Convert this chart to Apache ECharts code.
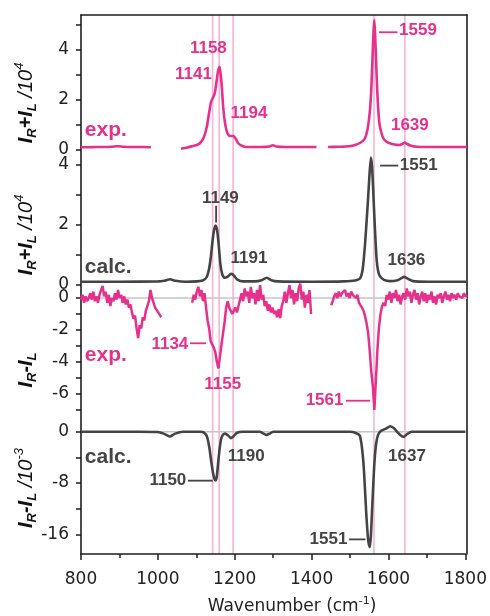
<!DOCTYPE html>
<html>
<head>
<meta charset="utf-8">
<script src="https://cdn.jsdelivr.net/npm/echarts@6/dist/echarts.min.js"></script>
<style>
html,body{margin:0;padding:0;background:#fff;}
#chart{width:490px;height:616px;}
</style>
</head>
<body>
<div id="chart"></div>
<script>
// ---- data (x: wavenumber cm-1) ----
// exp. I_R+I_L /10^4 (null = gap in the measurement)
var expSum = [
	[800,0.11],[820,0.11],[840,0.12],[860,0.12],[880,0.13],[895,0.15],[910,0.13],[930,0.12],[950,0.12],[965,0.12],[981,0.11],
	[1020,null],
	[1059,0.05],[1075,0.1],[1090,0.16],[1100,0.2],[1108,0.27],[1118,0.5],[1126,0.93],[1132,1.5],[1137,1.93],[1143,2.13],
	[1147,2.3],[1151,2.73],[1155,3.15],[1159,3.33],[1162,3.0],[1165,2.5],[1168,1.8],[1172,1.2],[1177,0.78],[1182,0.6],
	[1188,0.56],[1195,0.56],[1201,0.45],[1207,0.27],[1218,0.16],[1229,0.12],[1250,0.12],[1270,0.12],[1288,0.14],
	[1297,0.19],[1306,0.14],[1330,0.12],[1360,0.12],[1390,0.12],[1410,0.12],
	[1425,null],
	[1440,0.12],[1470,0.13],[1495,0.15],[1510,0.2],[1525,0.3],[1535,0.45],[1542,0.8],[1548,1.5],[1552,2.4],[1555,3.6],
	[1558,4.8],[1560,5.2],[1562,4.6],[1564,3.8],[1566,2.9],[1569,1.9],[1573,1.07],[1578,0.7],[1583,0.47],[1590,0.35],
	[1600,0.27],[1612,0.22],[1625,0.2],[1633,0.25],[1639,0.3],[1645,0.24],[1655,0.17],[1670,0.13],[1700,0.12],[1750,0.12],[1800,0.12]
];
// calc. I_R+I_L /10^4
var calcSum = [
	[800,0.11],[900,0.11],[1000,0.12],[1015,0.14],[1031,0.19],[1045,0.14],[1070,0.11],[1100,0.12],[1115,0.15],[1125,0.25],
	[1132,0.55],[1137,1.0],[1141,1.5],[1145,1.85],[1149,1.98],[1153,1.8],[1157,1.3],[1161,0.7],[1166,0.35],[1172,0.24],
	[1180,0.28],[1187,0.36],[1191,0.37],[1197,0.3],[1205,0.18],[1220,0.12],[1250,0.12],[1268,0.16],[1281,0.24],[1293,0.16],
	[1310,0.12],[1400,0.11],[1480,0.12],[1510,0.15],[1523,0.22],[1530,0.55],[1536,1.39],[1543,2.73],[1547,3.6],[1551,4.25],
	[1554,3.95],[1557,3.17],[1561,2.0],[1566,0.83],[1570,0.45],[1575,0.28],[1585,0.17],[1600,0.13],[1620,0.16],[1630,0.23],
	[1637,0.27],[1645,0.22],[1660,0.13],[1700,0.11],[1800,0.11]
];
// exp. I_R-I_L (noisy, three measured segments)
var expDiff = [
	[800,-0.1],[804,0.2],[808,-0.3],[812,0.1],[816,-0.2],[820,0.0],[824,0.3],[828,-0.1],[832,0.4],[836,-0.2],
	[840,0.1],[844,-0.3],[848,0.2],[852,0.5],[856,0.75],[860,0.1],[864,0.4],[868,-0.3],[872,0.2],[876,-0.5],
	[880,0.0],[884,-0.2],[888,0.3],[892,-0.1],[896,0.5],[900,0.0],[904,0.2],[908,-0.3],[912,0.1],[916,-0.4],
	[920,-0.1],[924,-0.6],[928,-0.4],[932,-0.9],[936,-1.3],[940,-1.1],[944,-1.9],[948,-2.5],[952,-1.7],[956,-1.9],
	[960,-1.2],[964,-1.4],[968,-0.8],[972,-0.9],[976,-0.2],[980,0.5],[984,0.0],[988,-0.3],[992,-0.6],[996,-0.5],
	[1000,-0.9],[1004,-0.8],[1008,-1.2],
	[1040,null],
	[1088,-0.3],[1092,0.2],[1096,-0.1],[1100,0.4],[1104,0.7],[1108,0.1],[1112,0.5],[1116,-0.2],[1120,0.3],[1124,-0.6],
	[1128,-1.4],[1132,-1.9],[1136,-2.7],[1140,-2.6],[1144,-3.1],[1148,-3.4],[1152,-4.0],[1156,-4.4],[1160,-4.3],[1164,-2.9],
	[1168,-2.2],[1172,-1.5],[1176,-0.6],[1180,-0.2],[1184,-0.6],[1188,-0.5],[1192,-1.0],[1196,-0.9],[1200,-0.6],[1204,-0.9],
	[1208,-0.5],[1212,-0.1],[1216,0.3],[1220,-0.2],[1224,0.6],[1228,0.1],[1232,0.4],[1236,-0.3],[1240,0.7],[1244,0.0],
	[1248,0.3],[1252,-0.4],[1256,0.5],[1260,-0.2],[1264,0.8],[1268,-0.1],[1272,0.2],[1276,-0.5],[1280,-0.2],[1284,-0.8],
	[1288,-0.4],[1292,-0.9],[1296,-0.6],[1300,-1.0],[1304,-0.8],[1308,-1.2],[1312,-0.7],[1316,-1.25],[1320,-0.5],[1324,-0.2],
	[1328,0.4],[1332,-0.3],[1336,0.3],[1340,0.8],[1344,0.0],[1348,0.5],[1352,-0.4],[1356,0.3],[1360,-0.2],[1364,0.6],
	[1368,0.9],[1372,-0.1],[1376,0.4],[1380,-0.6],[1384,0.2],[1388,-0.3],[1392,0.5],[1396,-1.0],
	[1420,null],
	[1448,-0.45],[1452,-0.2],[1456,0.1],[1460,0.3],[1464,0.0],[1468,0.4],[1472,0.1],[1476,0.3],[1480,0.2],[1484,0.5],
	[1488,0.1],[1492,0.3],[1496,0.0],[1500,0.4],[1504,0.2],[1508,0.3],[1512,0.0],[1516,0.2],[1520,-0.3],[1524,-0.2],
	[1528,-0.6],[1532,-0.8],[1536,-1.15],[1540,-1.6],[1544,-2.2],[1548,-3.3],[1552,-4.6],[1556,-5.5],[1560,-7.0],[1564,-5.1],
	[1568,-3.2],[1572,-1.8],[1576,-1.0],[1580,-0.5],[1584,-0.3],[1588,-0.5],[1592,0.2],[1596,-0.1],[1600,0.4],[1604,-0.3],
	[1608,0.3],[1612,0.0],[1616,0.5],[1620,-0.2],[1624,0.2],[1628,-0.4],[1632,0.1],[1636,0.3],[1640,-0.1],[1644,0.6],
	[1648,0.1],[1652,0.4],[1656,-0.3],[1660,0.2],[1664,0.5],[1668,-0.1],[1672,0.3],[1676,-0.4],[1680,0.1],[1684,0.4],
	[1688,-0.2],[1692,0.3],[1696,-0.3],[1700,0.2],[1704,-0.1],[1708,0.4],[1712,-0.3],[1716,0.1],[1720,-0.4],[1724,0.2],
	[1728,0.0],[1732,0.3],[1736,-0.3],[1740,0.1],[1744,0.4],[1748,-0.1],[1752,0.2],[1756,-0.2],[1760,0.3],[1764,0.0],
	[1768,0.2],[1772,-0.1],[1776,0.3],[1780,0.1],[1784,0.2],[1788,0.0],[1792,0.3],[1796,0.1],[1800,0.2]
];
// calc. I_R-I_L /10^-3
var calcDiff = [
	[800,0],[950,0],[1000,-0.05],[1015,-0.3],[1031,-0.75],[1045,-0.3],[1065,0],[1110,0],[1120,-0.15],[1128,-0.8],
	[1134,-2.5],[1138,-4.3],[1143,-6.3],[1147,-7.3],[1150,-7.6],[1153,-7.1],[1156,-5.4],[1160,-3.0],[1164,-1.3],[1169,-0.5],
	[1175,-0.3],[1183,-0.6],[1190,-1.0],[1197,-0.7],[1205,-0.2],[1220,0],[1265,0],[1275,-0.3],[1283,-0.5],[1291,-0.3],
	[1300,0],[1500,0],[1515,-0.2],[1525,-0.6],[1531,-2.5],[1536,-5.9],[1542,-12.6],[1547,-16.8],[1551,-18.0],[1554,-16.5],
	[1557,-12.6],[1561,-7.5],[1564,-4.3],[1568,-1.8],[1573,-0.5],[1580,0.1],[1592,0.45],[1605,0.85],[1615,0.5],[1625,-0.2],
	[1632,-0.6],[1639,-0.8],[1648,-0.4],[1660,0],[1700,0],[1800,0]
];
// pink guide lines
var refLines = [1141, 1158, 1194, 1559, 1639];

// axis ticks
var xLabels = [800, 1000, 1200, 1400, 1600, 1800];
var ticksP1 = [0, 1, 2, 3, 4, 5],  labelsP1 = [0, 2, 4];
var ticksP2 = [0, 1, 2, 3, 4],     labelsP2 = [0, 2, 4];
var ticksP3 = [0, -1, -2, -3, -4, -5, -6, -7], labelsP3 = [0, -2, -4, -6];
var ticksP4 = [0, -4, -8, -12, -16], labelsP4 = [0, -8, -16];

// ---- styles ----
var PINK = '#e7308b', DARK = '#444444', GUIDE = '#f7b4d3', AXIS = '#1e1e1e';
var TICKFONT = '"DejaVu Sans", sans-serif';
var NOTEFONT = '"Liberation Sans", Arial, sans-serif';

// panel layout: grid rect + y range so that every panel keeps its own scale
var panels = [
	{top:15,  height:145, min:-0.4,   max:5.4,  ticks:ticksP1, labels:labelsP1},
	{top:150, height:145, min:-1/3,   max:4.5,  ticks:ticksP2, labels:labelsP2},
	{top:282, height:140, min:-7.75,  max:1,    ticks:ticksP3, labels:labelsP3},
	{top:419, height:135, min:-19.08, max:1.98, ticks:ticksP4, labels:labelsP4}
];

// peak annotations (x in cm-1, y in panel units)
var notes = [
	[ // exp. sum
		{t:'1158', x:1130, y:4.08},
		{t:'1141', x:1139, y:3.01, a:'right'},
		{t:'1194', x:1235, y:1.47},
		{x:1572, y:4.71, x2:1620},
		{t:'1559', x:1624, y:4.79, a:'left'},
		{t:'1639', x:1652, y:1.0},
		{t:'exp.', x:810, y:0.81, a:'left', big:true}
	],
	[ // calc. sum
		{t:'1149', x:1161, y:2.9},
		{x:1150, y:2.64, x2:1150, y2:2.08},
		{t:'1191', x:1235, y:0.89},
		{x:1575, y:3.98, x2:1622},
		{t:'1551', x:1626, y:4.0, a:'left'},
		{t:'1636', x:1643, y:0.83},
		{t:'calc.', x:810, y:0.59, a:'left', big:true}
	],
	[ // exp. diff
		{t:'1134', x:1078, y:-2.89, a:'right'},
		{x:1082, y:-2.83, x2:1124},
		{t:'1155', x:1167, y:-5.39},
		{t:'1561', x:1480, y:-6.38, a:'right'},
		{x:1486, y:-6.42, x2:1549},
		{t:'exp.', x:810, y:-3.56, a:'left', big:true}
	],
	[ // calc. diff
		{t:'1150', x:1074, y:-7.66, a:'right'},
		{x:1078, y:-7.64, x2:1143},
		{t:'1190', x:1230, y:-3.84},
		{t:'1637', x:1648, y:-3.84},
		{t:'1551', x:1493, y:-16.85, a:'right'},
		{x:1497, y:-16.8, x2:1540},
		{t:'calc.', x:810, y:-4.0, a:'left', big:true}
	]
];

function noteSeries(idx, color){
	var list = notes[idx];
	return {
		type:'custom', xAxisIndex:idx, yAxisIndex:idx, z:6, silent:true, clip:false,
		data: list.map(function(n, i){ return [n.x, n.y, i]; }),
		encode:{x:0, y:1},
		renderItem:function(params, api){
			var n = list[params.dataIndex];
			if(n.x2 !== undefined){
				var p1 = api.coord([n.x, n.y]);
				var p2 = api.coord([n.x2, n.y2 !== undefined ? n.y2 : n.y]);
				return {type:'line', shape:{x1:p1[0], y1:p1[1], x2:p2[0], y2:p2[1]},
					style:{stroke:color, lineWidth:1.8}};
			}
			var p = api.coord([n.x, n.y]);
			return {type:'text', x:p[0], y:p[1], style:{
				text:n.t, fill:color, align:n.a || 'center', verticalAlign:'middle',
				font:'bold ' + (n.big ? 21 : 17) + 'px ' + NOTEFONT
			}};
		}
	};
}

function zeroLine(idx){
	return {
		type:'custom', xAxisIndex:idx, yAxisIndex:idx, z:1, silent:true,
		data:[[800, 0]], encode:{x:0, y:1},
		renderItem:function(params, api){
			var cs = params.coordSys;
			var y = api.coord([api.value(0), api.value(1)])[1];
			return {type:'line', shape:{x1:cs.x, y1:y, x2:cs.x + cs.width, y2:y},
				style:{stroke:'#c6c6c6', lineWidth:1.5}};
		}
	};
}

function curve(idx, data, color, width, smooth){
	return {
		type:'line', xAxisIndex:idx, yAxisIndex:idx, z:3, data:data,
		showSymbol:false, symbol:'none', silent:true, animation:false,
		smooth:smooth, connectNulls:false,
		lineStyle:{color:color, width:width}
	};
}

function plain(v){ return String(v); }

var grids = [], xAxes = [], yAxes = [];
panels.forEach(function(p, i){
	grids.push({left:81, right:23, top:p.top, height:p.height});
	var last = (i == panels.length - 1);
	xAxes.push({
		type:'value', gridIndex:i, min:800, max:1800, interval:200, show:last,
		position:'bottom',
		axisLine:{show:true, onZero:false, lineStyle:{color:AXIS, width:1.6}},
		axisTick:{show:true, length:6, lineStyle:{color:AXIS, width:1.5}},
		minorTick:{show:true, splitNumber:2, length:4, lineStyle:{color:AXIS, width:1.5}},
		axisLabel:{show:true, margin:17, color:'#222', fontSize:17, fontFamily:TICKFONT,
			customValues:xLabels, formatter:plain},
		splitLine:{show:false}, minorSplitLine:{show:false}
	});
	yAxes.push({
		type:'value', gridIndex:i, min:p.min, max:p.max, position:'left',
		axisLine:{show:false},
		axisTick:{show:true, length:5, customValues:p.ticks, lineStyle:{color:AXIS, width:1.5}},
		axisLabel:{show:true, margin:12, color:'#222', fontSize:17, fontFamily:TICKFONT,
			customValues:p.labels, formatter:plain},
		splitLine:{show:false}
	});
});
// frame grid over all panels: borders + guide lines
grids.push({left:81, right:23, top:15, height:539});
xAxes.push({type:'value', gridIndex:4, min:800, max:1800, position:'top',
	axisLine:{show:true, onZero:false, lineStyle:{color:AXIS, width:1.6}},
	axisTick:{show:false}, axisLabel:{show:false}, splitLine:{show:false}});
yAxes.push({type:'value', gridIndex:4, min:0, max:1, position:'right',
	axisLine:{show:true, onZero:false, lineStyle:{color:AXIS, width:1.6}},
	axisTick:{show:false}, axisLabel:{show:false}, splitLine:{show:false}});
yAxes.push({type:'value', gridIndex:4, min:0, max:1, position:'left',
	axisLine:{show:true, onZero:false, lineStyle:{color:AXIS, width:1.6}},
	axisTick:{show:false}, axisLabel:{show:false}, splitLine:{show:false}});

var guideSeries = {
	type:'custom', xAxisIndex:4, yAxisIndex:4, z:0, silent:true,
	data: refLines.map(function(v){ return [v, 0]; }), encode:{x:0, y:1},
	renderItem:function(params, api){
		var a = api.coord([api.value(0), 0]), b = api.coord([api.value(0), 1]);
		return {type:'line', shape:{x1:a[0], y1:a[1], x2:b[0], y2:b[1]},
			style:{stroke:GUIDE, lineWidth:1.6}};
	}
};

var subRich = {
	i:{font:'italic bold 20px ' + NOTEFONT, fill:'#111', lineHeight:26},
	s:{font:'italic bold 13px ' + NOTEFONT, fill:'#111', lineHeight:9, verticalAlign:'bottom'},
	n:{font:'italic 20px ' + NOTEFONT, fill:'#111', lineHeight:26},
	p:{font:'italic 13px ' + NOTEFONT, fill:'#111', lineHeight:9, verticalAlign:'top'}
};
function yTitle(y, txt){
	return {type:'text', x:26, y:y, rotation:Math.PI/2, silent:true,
		style:{text:txt, rich:subRich, align:'center', verticalAlign:'middle'}};
}

var option = {
	animation:false,
	backgroundColor:'#fff',
	grid:grids,
	xAxis:xAxes,
	yAxis:yAxes,
	series:[
		guideSeries,
		zeroLine(2), zeroLine(3),
		curve(0, expSum, PINK, 2.6, 0.2),
		curve(1, calcSum, DARK, 2.6, 0.2),
		curve(2, expDiff, PINK, 2.5, false),
		curve(3, calcDiff, DARK, 2.6, 0.2),
		noteSeries(0, PINK), noteSeries(1, DARK), noteSeries(2, PINK), noteSeries(3, DARK)
	],
	graphic:[
		yTitle(103, '{i|I}{s|R}{i|+I}{s|L}{n| /10}{p|4}'),
		yTitle(235, '{i|I}{s|R}{i|+I}{s|L}{n| /10}{p|4}'),
		yTitle(370, '{i|I}{s|R}{i|-I}{s|L}'),
		yTitle(488, '{i|I}{s|R}{i|-I}{s|L}{n| /10}{p|-3}'),
		{type:'text', x:292, y:607, silent:true, style:{
			text:'{n|Wavenumber (cm}{p|-1}{n|)}', align:'center', verticalAlign:'middle',
			rich:{
				n:{font:'17px ' + TICKFONT, fill:'#222', lineHeight:22},
				p:{font:'11px ' + TICKFONT, fill:'#222', lineHeight:8, verticalAlign:'top'}
			}
		}}
	]
};

var myChart = echarts.init(document.getElementById('chart'));
myChart.setOption(option);
</script>
</body>
</html>
